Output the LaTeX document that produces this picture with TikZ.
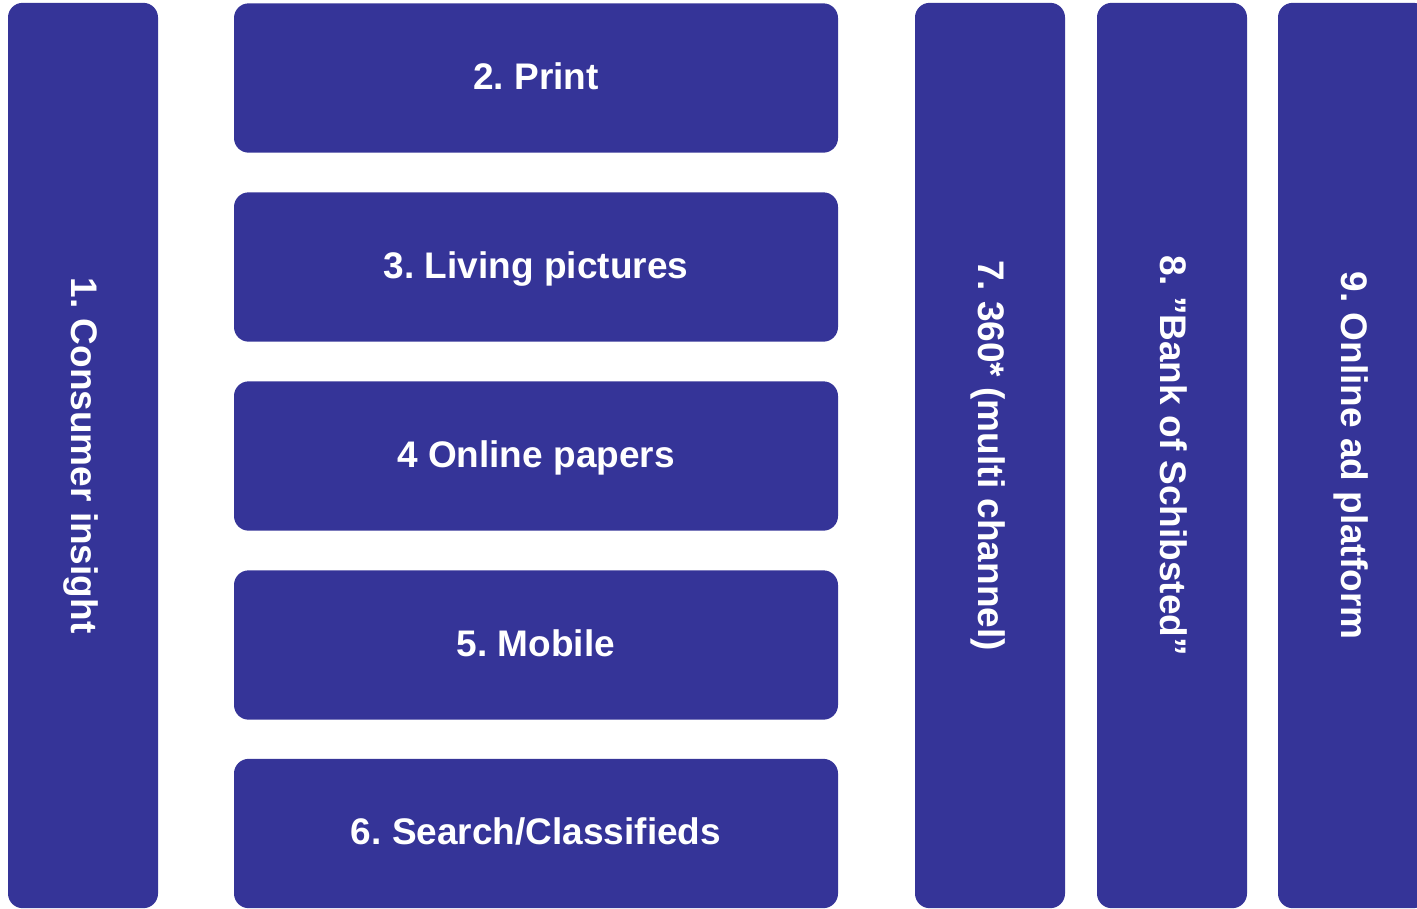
\documentclass[tikz,border=0pt]{standalone}
\usepackage{fontspec}
\setmainfont{Liberation Sans}
\frenchspacing
\definecolor{boxblue}{RGB}{53,52,152}
\tikzset{
  box/.style={fill=boxblue, rounded corners=11pt, inner sep=0pt,
    text=white, text height=20pt, text depth=2.8pt,
    font=\bfseries\fontsize{27.75}{30}\selectfont},
  rowbox/.style={box, minimum width=453pt, minimum height=112pt},
  colbox/.style={box, rotate=-90, minimum width=679pt, minimum height=112.5pt}
}
\begin{document}
\begin{tikzpicture}[x=0.75pt, y=-0.75pt]
  \clip (0,0) rectangle (1417,908);
  \useasboundingbox (0,0) rectangle (1417,908);
  % left column
  \node[colbox] (insight) at (83,455.5) {1. Consumer insight};
  % middle rows
  \node[rowbox] (print) at (536,78) {2. Print};
  \node[rowbox] (living) at (536,267) {3. Living pictures};
  \node[rowbox] (papers) at (536,456) {4 Online papers};
  \node[rowbox] (mobile) at (536,645) {5. Mobile};
  \node[rowbox] (search) at (536,833.5) {6. Search/Classifieds};
  % right columns
  \node[colbox] (multi) at (990,455.5) {7. 360* (multi channel)};
  \node[colbox] (bank) at (1172,455.5) {8. ”Bank of Schibsted”};
  \node[colbox] (adplat) at (1353,455.5) {9. Online ad platform};
\end{tikzpicture}
\end{document}
